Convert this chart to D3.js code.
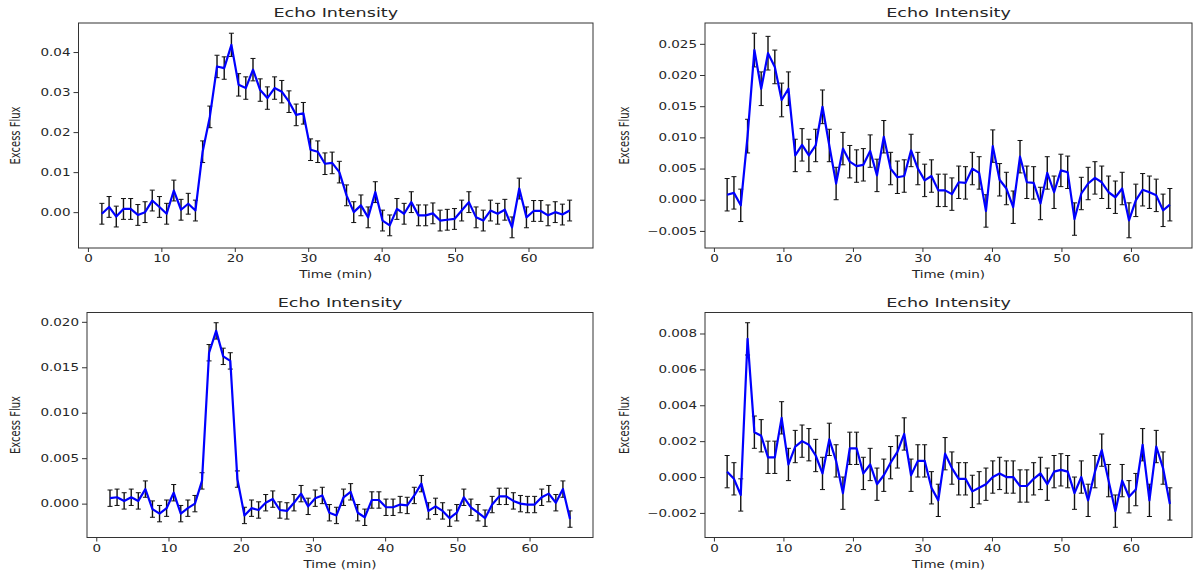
<!DOCTYPE html>
<html>
<head>
<meta charset="utf-8">
<script src="https://cdn.jsdelivr.net/npm/d3@7"></script>
<style>
  body { margin: 0; background: #fff; }
  text { font-family: "DejaVu Sans", sans-serif; fill: #262626; }
</style>
</head>
<body>
<svg id="fig" width="1198" height="573"></svg>
<script>
// sample times (min), same for all four panels
var times = [1.90, 2.88, 3.86, 4.84, 5.82, 6.80, 7.78, 8.76, 9.74, 10.72,
  11.70, 12.68, 13.66, 14.64, 15.62, 16.60, 17.58, 18.56, 19.54, 20.52,
  21.50, 22.48, 23.46, 24.44, 25.42, 26.40, 27.38, 28.36, 29.34, 30.32,
  31.30, 32.28, 33.26, 34.24, 35.22, 36.20, 37.18, 38.16, 39.14, 40.12,
  41.10, 42.08, 43.06, 44.04, 45.02, 46.00, 46.98, 47.96, 48.94, 49.92,
  50.90, 51.88, 52.86, 53.84, 54.82, 55.80, 56.78, 57.76, 58.74, 59.72,
  60.70, 61.68, 62.66, 63.64, 64.62, 65.60];

var fluxTL = [-0.0004, 0.0013, -0.0011, 0.0008, 0.0008, -0.0007, 0.0000, 0.0029, 0.0013, -0.0004,
  0.0054, 0.0006, 0.0021, 0.0004, 0.0151, 0.0238, 0.0364, 0.0360, 0.0418, 0.0318,
  0.0310, 0.0356, 0.0305, 0.0285, 0.0310, 0.0301, 0.0276, 0.0243, 0.0247, 0.0156,
  0.0151, 0.0121, 0.0123, 0.0100, 0.0042, 0.0000, 0.0017, -0.0013, 0.0050, -0.0021,
  -0.0033, 0.0008, -0.0004, 0.0025, -0.0008, -0.0008, -0.0003, -0.0021, -0.0019, -0.0017,
  0.0004, 0.0025, -0.0013, -0.0021, 0.0004, -0.0004, 0.0006, -0.0038, 0.0059, -0.0013,
  0.0003, 0.0003, -0.0008, 0.0000, -0.0006, 0.0004];
var errTL = [0.0026, 0.0026, 0.0026, 0.0026, 0.0026, 0.0026, 0.0026, 0.0026, 0.0026, 0.0026,
  0.0026, 0.0026, 0.0026, 0.0026, 0.0027, 0.0027, 0.0028, 0.0028, 0.0029, 0.0028,
  0.0028, 0.0028, 0.0028, 0.0028, 0.0028, 0.0028, 0.0027, 0.0027, 0.0027, 0.0027,
  0.0027, 0.0027, 0.0027, 0.0027, 0.0026, 0.0026, 0.0026, 0.0026, 0.0026, 0.0026,
  0.0026, 0.0026, 0.0026, 0.0026, 0.0026, 0.0026, 0.0026, 0.0026, 0.0026, 0.0026,
  0.0026, 0.0026, 0.0026, 0.0026, 0.0026, 0.0026, 0.0026, 0.0026, 0.0026, 0.0026,
  0.0026, 0.0026, 0.0026, 0.0026, 0.0026, 0.0026];

var fluxTR = [0.0008, 0.0011, -0.0009, 0.0102, 0.0240, 0.0178, 0.0235, 0.0213, 0.0160, 0.0178,
  0.0071, 0.0088, 0.0071, 0.0087, 0.0149, 0.0087, 0.0026, 0.0082, 0.0061, 0.0054,
  0.0056, 0.0078, 0.0039, 0.0101, 0.0050, 0.0036, 0.0038, 0.0079, 0.0050, 0.0031,
  0.0038, 0.0015, 0.0015, 0.0009, 0.0028, 0.0027, 0.0050, 0.0043, -0.0018, 0.0086,
  0.0032, 0.0018, -0.0012, 0.0069, 0.0028, 0.0027, -0.0006, 0.0043, 0.0012, 0.0047,
  0.0044, -0.0031, 0.0010, 0.0026, 0.0035, 0.0028, 0.0012, 0.0004, 0.0018, -0.0033,
  -0.0001, 0.0016, 0.0012, 0.0007, -0.0017, -0.0008];
var errTR = [0.0026, 0.0026, 0.0026, 0.0027, 0.0027, 0.0027, 0.0027, 0.0027, 0.0027, 0.0027,
  0.0026, 0.0026, 0.0026, 0.0026, 0.0027, 0.0026, 0.0026, 0.0026, 0.0026, 0.0026,
  0.0026, 0.0026, 0.0026, 0.0026, 0.0026, 0.0026, 0.0026, 0.0026, 0.0026, 0.0026,
  0.0026, 0.0026, 0.0026, 0.0026, 0.0026, 0.0026, 0.0026, 0.0026, 0.0026, 0.0026,
  0.0026, 0.0026, 0.0026, 0.0026, 0.0026, 0.0026, 0.0026, 0.0026, 0.0026, 0.0026,
  0.0026, 0.0026, 0.0026, 0.0026, 0.0026, 0.0026, 0.0026, 0.0026, 0.0026, 0.0028,
  0.0026, 0.0026, 0.0026, 0.0026, 0.0026, 0.0026];

var fluxBL = [0.0006, 0.0007, 0.0003, 0.0007, 0.0003, 0.0016, -0.0006, -0.0011, -0.0005, 0.0012,
  -0.0011, -0.0005, 0.0000, 0.0025, 0.0166, 0.0190, 0.0162, 0.0157, 0.0027, -0.0013,
  -0.0005, -0.0007, 0.0001, 0.0005, -0.0007, -0.0008, 0.0001, 0.0011, -0.0003, 0.0006,
  0.0009, -0.0010, -0.0013, 0.0007, 0.0013, -0.0010, -0.0015, 0.0004, 0.0004, -0.0004,
  -0.0004, -0.0001, -0.0002, 0.0009, 0.0022, -0.0008, -0.0003, -0.0008, -0.0016, -0.0010,
  0.0007, -0.0004, -0.0010, -0.0016, -0.0001, 0.0008, 0.0008, 0.0003, 0.0000, -0.0001,
  -0.0001, 0.0007, 0.0011, 0.0001, 0.0016, -0.0017];
var errBL = [0.0009, 0.0009, 0.0009, 0.0009, 0.0009, 0.0009, 0.0009, 0.0009, 0.0009, 0.0009,
  0.0009, 0.0009, 0.0009, 0.0009, 0.0009, 0.0009, 0.0009, 0.0009, 0.0009, 0.0009,
  0.0009, 0.0009, 0.0009, 0.0009, 0.0009, 0.0009, 0.0009, 0.0009, 0.0009, 0.0009,
  0.0009, 0.0009, 0.0009, 0.0009, 0.0009, 0.0009, 0.0009, 0.0009, 0.0009, 0.0009,
  0.0009, 0.0009, 0.0009, 0.0009, 0.0009, 0.0009, 0.0009, 0.0009, 0.0009, 0.0009,
  0.0009, 0.0009, 0.0009, 0.0009, 0.0009, 0.0009, 0.0009, 0.0009, 0.0009, 0.0009,
  0.0009, 0.0009, 0.0009, 0.0009, 0.0009, 0.0009];

var fluxBR = [0.0003, -0.0001, -0.0010, 0.0077, 0.0025, 0.0023, 0.0011, 0.0011, 0.0033, 0.0007,
  0.0017, 0.0020, 0.0018, 0.0012, 0.0002, 0.0021, 0.0009, -0.0009, 0.0016, 0.0016,
  0.0002, 0.0007, -0.0004, 0.0001, 0.0008, 0.0014, 0.0024, 0.0001, 0.0009, 0.0009,
  -0.0006, -0.0013, 0.0013, 0.0005, -0.0001, -0.0001, -0.0008, -0.0006, -0.0004, 0.0000,
  0.0002, 0.0000, 0.0000, -0.0005, -0.0005, -0.0001, 0.0002, -0.0004, 0.0003, 0.0004,
  0.0003, -0.0009, 0.0000, -0.0013, 0.0003, 0.0015, -0.0002, -0.0019, -0.0002, -0.0011,
  -0.0007, 0.0018, -0.0013, 0.0017, 0.0005, -0.0015];
var errBR = [0.0009, 0.0009, 0.0009, 0.0009, 0.0009, 0.0009, 0.0009, 0.0009, 0.0009, 0.0009,
  0.0009, 0.0009, 0.0009, 0.0009, 0.0009, 0.0009, 0.0009, 0.0009, 0.0009, 0.0009,
  0.0009, 0.0009, 0.0009, 0.0009, 0.0009, 0.0009, 0.0009, 0.0009, 0.0009, 0.0009,
  0.0009, 0.0009, 0.0009, 0.0009, 0.0009, 0.0009, 0.0009, 0.0009, 0.0009, 0.0009,
  0.0009, 0.0009, 0.0009, 0.0009, 0.0009, 0.0009, 0.0009, 0.0009, 0.0009, 0.0009,
  0.0009, 0.0009, 0.0009, 0.0009, 0.0009, 0.0009, 0.0009, 0.0009, 0.0009, 0.0009,
  0.0009, 0.0009, 0.0009, 0.0009, 0.0009, 0.0009];

var xTicks = [0, 10, 20, 30, 40, 50, 60];
var yTicksTL = [0, 0.01, 0.02, 0.03, 0.04];
var yTicksTR = [-0.005, 0, 0.005, 0.01, 0.015, 0.02, 0.025];
var yTicksBL = [0, 0.005, 0.01, 0.015, 0.02];
var yTicksBR = [-0.002, 0, 0.002, 0.004, 0.006, 0.008];

var titleText = "Echo Intensity";
var xLabel = "Time (min)";
var yLabel = "Excess Flux";

// the picture is stretched sideways, so text is too
var SX = 1.35;

var svg = d3.select("#fig");

function panel(box, flux, err, yTicks, yFmt) {
  var g = svg.append("g");

  var x = d3.scaleLinear().range([box.left, box.right]);
  var y = d3.scaleLinear().range([box.bottom, box.top]);

  // matplotlib style 5% margins
  var xe = d3.extent(times);
  var xr = xe[1] - xe[0];
  x.domain([xe[0] - 0.05 * xr, xe[1] + 0.05 * xr]);
  var lo = d3.min(flux, (d, i) => d - err[i]);
  var hi = d3.max(flux, (d, i) => d + err[i]);
  y.domain([lo - 0.05 * (hi - lo), hi + 0.05 * (hi - lo)]);

  var pts = times.map((t, i) => ({t: t, v: flux[i], e: err[i]}));

  // error bars
  var eb = g.append("g").attr("stroke", "#111").attr("stroke-width", 1.4);
  eb.selectAll("line.bar").data(pts).enter().append("line")
    .attr("x1", d => x(d.t)).attr("x2", d => x(d.t))
    .attr("y1", d => y(d.v - d.e)).attr("y2", d => y(d.v + d.e));
  eb.selectAll("line.capt").data(pts).enter().append("line")
    .attr("x1", d => x(d.t) - 2.5).attr("x2", d => x(d.t) + 2.5)
    .attr("y1", d => y(d.v + d.e)).attr("y2", d => y(d.v + d.e))
    .attr("stroke-width", 1);
  eb.selectAll("line.capb").data(pts).enter().append("line")
    .attr("x1", d => x(d.t) - 2.5).attr("x2", d => x(d.t) + 2.5)
    .attr("y1", d => y(d.v - d.e)).attr("y2", d => y(d.v - d.e))
    .attr("stroke-width", 1);

  var line = d3.line().x(d => x(d.t)).y(d => y(d.v));
  g.append("path").datum(pts)
    .attr("fill", "none")
    .attr("stroke", "#0000ff")
    .attr("stroke-width", 2.2)
    .attr("stroke-linejoin", "round")
    .attr("d", line);

  // axes
  var ax = g.append("g")
    .attr("transform", "translate(0," + box.bottom + ")")
    .call(d3.axisBottom(x).tickValues(xTicks).tickSize(4).tickPadding(3).tickFormat(d3.format("d")));
  var ay = g.append("g")
    .attr("transform", "translate(" + box.left + ",0)")
    .call(d3.axisLeft(y).tickValues(yTicks).tickSize(5).tickPadding(3).tickFormat(d3.format(yFmt)));
  [ax, ay].forEach(a => {
    a.select(".domain").remove();
    a.selectAll(".tick line").attr("stroke", "#333").attr("stroke-width", 1);
    a.selectAll(".tick text").attr("font-size", 10).attr("fill", "#262626")
      .style("font-family", "DejaVu Sans");
  });
  ax.selectAll(".tick text").attr("transform", "scale(" + SX + ",1)");
  ay.selectAll(".tick text").attr("x", -8 / SX).attr("transform", "scale(" + SX + ",1)");

  g.append("rect")
    .attr("x", box.left).attr("y", box.top)
    .attr("width", box.right - box.left).attr("height", box.bottom - box.top)
    .attr("fill", "none").attr("stroke", "#333").attr("stroke-width", 1);

  var cx = (box.left + box.right) / 2;
  g.append("text")
    .attr("transform", "translate(" + cx + "," + (box.top - 6) + ") scale(" + SX + ",1)")
    .attr("text-anchor", "middle").attr("font-size", 13)
    .text(titleText);
  g.append("text")
    .attr("transform", "translate(" + cx + "," + (box.bottom + 30) + ") scale(" + SX + ",1)")
    .attr("text-anchor", "middle").attr("font-size", 10)
    .text(xLabel);
  g.append("text")
    .attr("transform", "translate(" + box.labelX + "," + ((box.top + box.bottom) / 2) + ") scale(" + SX + ",1) rotate(-90)")
    .attr("text-anchor", "middle").attr("font-size", 10)
    .text(yLabel);
}

panel({left: 78.5, right: 593, top: 23, bottom: 248, labelX: 20}, fluxTL, errTL, yTicksTL, ".2f");
panel({left: 705, right: 1192, top: 23, bottom: 248, labelX: 629}, fluxTR, errTR, yTicksTR, ".3f");
panel({left: 87, right: 593, top: 312.5, bottom: 537.5, labelX: 20}, fluxBL, errBL, yTicksBL, ".3f");
panel({left: 705, right: 1192, top: 312.5, bottom: 537.5, labelX: 629}, fluxBR, errBR, yTicksBR, ".3f");
</script>
</body>
</html>
